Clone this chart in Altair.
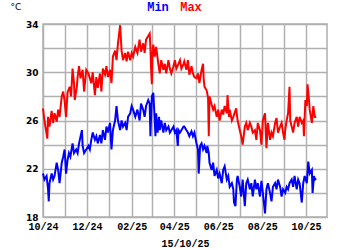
import altair as alt
import pandas as pd

start = pd.Timestamp("2024-10-01")

max_days = [0, 2, 6, 7, 9, 12, 14, 16, 19, 21, 23, 26, 28, 30, 32, 34, 37, 39, 41, 43, 44, 47, 48, 50, 52, 55, 57, 60, 63, 67, 69, 72, 74, 76, 79, 81, 83, 86, 88, 90, 93, 95, 97, 100, 102, 104, 107, 109, 111, 114, 116, 118, 121, 123, 125, 128, 131, 134, 136, 139, 141, 143, 146, 148, 149, 150, 151, 152, 153, 155, 157, 160, 162, 164, 167, 169, 171, 174, 176, 178, 181, 183, 185, 188, 190, 192, 195, 196, 199, 201, 203, 206, 208, 210, 213, 215, 217, 220, 222, 223, 224, 227, 229, 230, 231, 234, 236, 238, 241, 243, 245, 248, 250, 252, 255, 256, 258, 259, 262, 264, 268, 270, 273, 275, 277, 280, 282, 284, 287, 289, 291, 294, 296, 298, 301, 303, 305, 308, 310, 312, 315, 317, 319, 322, 324, 326, 329, 331, 333, 335, 336, 338, 340, 342, 343, 345, 347, 349, 352, 354, 356, 359, 361, 362, 364, 366, 367, 369, 370, 373, 375, 377, 379]
max_vals = [27.0, 26.0, 24.5, 26.3, 25.5, 26.8, 25.8, 26.6, 25.9, 26.9, 26.3, 28.0, 28.4, 27.6, 26.3, 28.3, 28.8, 28.0, 30.3, 29.1, 27.7, 28.8, 29.6, 30.5, 29.5, 30.2, 28.4, 30.2, 29.9, 29.1, 30.0, 28.1, 29.6, 28.7, 29.9, 28.4, 30.3, 29.8, 30.5, 29.6, 30.2, 29.1, 31.3, 31.8, 31.0, 32.4, 33.9, 31.8, 31.0, 31.6, 30.9, 31.7, 31.0, 31.6, 31.3, 32.1, 31.6, 32.7, 31.7, 32.4, 31.6, 32.7, 33.0, 33.2, 32.1, 30.2, 29.0, 31.6, 32.3, 31.3, 32.1, 30.7, 29.9, 31.0, 30.2, 30.7, 29.9, 31.0, 30.3, 29.9, 30.5, 31.0, 30.3, 30.7, 31.0, 30.3, 30.7, 30.9, 30.2, 31.0, 29.8, 30.5, 29.9, 29.6, 29.5, 29.9, 29.1, 30.2, 30.7, 29.4, 28.8, 28.5, 27.9, 24.7, 28.0, 27.3, 26.9, 27.2, 26.3, 26.9, 26.0, 26.9, 26.5, 27.2, 26.6, 28.1, 26.3, 26.9, 26.0, 26.3, 27.0, 26.0, 25.2, 24.7, 24.0, 25.5, 25.8, 25.2, 25.8, 25.5, 25.0, 25.2, 24.4, 25.8, 25.2, 24.0, 26.0, 26.6, 23.7, 25.8, 24.4, 25.0, 24.7, 25.8, 26.2, 25.0, 25.5, 25.8, 25.0, 24.4, 25.2, 26.0, 26.6, 28.8, 26.0, 25.5, 25.0, 25.8, 26.3, 25.5, 26.3, 25.8, 26.0, 24.7, 27.7, 27.2, 29.0, 27.7, 26.9, 25.8, 27.2, 26.3, 26.3]

min_days = [0, 2, 5, 7, 8, 9, 12, 14, 16, 19, 21, 23, 26, 28, 30, 32, 34, 36, 38, 41, 43, 46, 48, 50, 54, 55, 57, 60, 63, 65, 67, 69, 72, 74, 76, 79, 81, 83, 86, 88, 90, 93, 95, 97, 100, 102, 104, 107, 109, 111, 114, 116, 118, 121, 123, 125, 128, 131, 134, 136, 139, 141, 143, 146, 148, 149, 151, 153, 154, 155, 156, 157, 159, 161, 162, 164, 167, 169, 171, 174, 176, 178, 181, 183, 185, 187, 188, 190, 192, 195, 196, 199, 201, 203, 206, 208, 210, 213, 215, 216, 218, 220, 222, 224, 227, 228, 230, 231, 234, 236, 238, 241, 243, 245, 248, 250, 252, 255, 257, 259, 262, 264, 265, 267, 269, 270, 273, 275, 277, 280, 282, 284, 287, 289, 291, 294, 296, 298, 301, 303, 305, 308, 310, 312, 315, 317, 319, 322, 324, 326, 329, 331, 333, 336, 338, 340, 342, 345, 347, 349, 352, 354, 356, 359, 361, 363, 366, 368, 370, 373, 374, 376, 377, 379]
min_vals = [21.6, 21.1, 21.4, 20.3, 19.3, 20.8, 21.6, 21.1, 21.4, 22.5, 21.9, 20.8, 22.5, 23.0, 23.6, 21.6, 22.7, 23.3, 23.0, 24.1, 23.3, 23.6, 23.3, 24.1, 25.2, 23.9, 23.3, 23.6, 23.9, 23.6, 24.4, 25.0, 24.4, 24.7, 24.1, 24.8, 24.1, 25.2, 24.4, 25.5, 25.0, 25.8, 23.6, 25.2, 26.0, 27.2, 26.0, 25.2, 26.0, 25.5, 25.8, 25.2, 26.3, 26.6, 27.2, 26.9, 26.3, 26.9, 26.0, 27.4, 26.9, 26.3, 27.2, 27.7, 27.4, 24.7, 28.0, 28.3, 27.2, 26.0, 24.7, 26.6, 25.0, 26.3, 25.2, 26.0, 25.0, 25.8, 25.2, 25.5, 25.0, 25.2, 25.5, 25.0, 25.2, 23.9, 25.2, 25.0, 25.2, 25.5, 25.5, 25.2, 25.0, 24.7, 25.1, 24.7, 25.0, 24.1, 23.6, 21.6, 23.9, 24.1, 23.6, 23.9, 23.3, 23.9, 23.3, 22.5, 21.9, 22.5, 21.4, 21.9, 21.2, 21.6, 20.8, 21.9, 22.2, 21.1, 21.4, 20.5, 20.8, 20.3, 19.2, 18.9, 21.1, 21.4, 20.5, 19.7, 21.1, 18.9, 20.8, 21.1, 20.3, 20.8, 19.7, 21.1, 20.3, 20.8, 19.7, 21.0, 20.0, 18.3, 20.3, 20.8, 20.0, 19.3, 20.5, 20.8, 20.3, 21.1, 20.5, 19.7, 20.3, 20.0, 20.5, 20.3, 20.8, 21.1, 20.5, 21.4, 20.3, 21.1, 20.8, 19.2, 20.8, 21.4, 20.8, 22.6, 21.6, 21.9, 20.0, 21.4, 21.1, 21.2]

series_names = ["Min", "Max"]
series_colors = ["#0000ff", "#ff0000"]
x_title = "15/10/25"
unit_label = "°C"

df = pd.concat([
    pd.DataFrame({"date": [start + pd.Timedelta(days=d) for d in min_days], "t": min_vals, "s": "Min"}),
    pd.DataFrame({"date": [start + pd.Timedelta(days=d) for d in max_days], "t": max_vals, "s": "Max"}),
], ignore_index=True)

month_ticks = []
for i in range(13):
    y = 2024 + (9 + i) // 12
    m = (9 + i) % 12 + 1
    month_ticks.append(alt.DateTime(year=y, month=m, date=1))

mono = "Liberation Mono"

lines = alt.Chart(df).mark_line(strokeWidth=2, interpolate="linear").encode(
    x=alt.X("date:T",
            scale=alt.Scale(domain=[alt.DateTime(year=2024, month=10, date=1),
                                    alt.DateTime(year=2025, month=10, date=30)]),
            axis=alt.Axis(values=month_ticks, format="%m/%y",
                          labelExpr="month(datum.value) % 2 == 1 ? datum.label : ''",
                          labelOverlap=False, labelFlush=False, ticks=False, domain=False,
                          labelFont=mono, labelFontWeight="bold", labelFontSize=10,
                          labelColor="#000000", labelPadding=4,
                          title=x_title, titleFont=mono, titleFontWeight="bold",
                          titleFontSize=10, titleColor="#000000", titlePadding=7,
                          gridColor="#b0b0b0", gridWidth=1.5, gridOpacity=1)),
    y=alt.Y("t:Q",
            scale=alt.Scale(domain=[18, 34], nice=False, zero=False),
            axis=alt.Axis(values=list(range(18, 35, 2)),
                          labelExpr="datum.value % 4 == 2 ? datum.label : ''",
                          title=None, ticks=False, domain=False, labelFlush=False,
                          labelOverlap=False,
                          labelFont="DejaVu Sans", labelFontWeight="bold", labelFontSize=9,
                          labelColor="#000000", labelPadding=5,
                          gridColor="#b0b0b0", gridWidth=1.5, gridOpacity=1)),
    color=alt.Color("s:N", scale=alt.Scale(domain=series_names, range=series_colors), legend=None),
)

title_min = alt.Chart(pd.DataFrame({"label": [series_names[0]]})).mark_text(
    font=mono, fontWeight="bold", fontSize=12, color=series_colors[0], align="center", baseline="alphabetic"
).encode(text="label:N", x=alt.value(115), y=alt.value(-13))

title_max = alt.Chart(pd.DataFrame({"label": [series_names[1]]})).mark_text(
    font=mono, fontWeight="bold", fontSize=12, color=series_colors[1], align="center", baseline="alphabetic"
).encode(text="label:N", x=alt.value(148), y=alt.value(-13))

unit = alt.Chart(pd.DataFrame({"label": [unit_label]})).mark_text(
    font="DejaVu Sans", fontSize=9, color="#000000", align="center", baseline="alphabetic"
).encode(text="label:N", x=alt.value(-27), y=alt.value(-14))

chart = alt.layer(lines, title_min, title_max, unit).properties(
    width=284, height=193,
    padding={"left": 43, "top": 24, "right": 23, "bottom": 33},
    autosize="none",
    background="#ffffff",
).configure_view(stroke="#b0b0b0", strokeWidth=1.5)

chart.save("out.html", embed_options={"renderer": "svg", "actions": False})
